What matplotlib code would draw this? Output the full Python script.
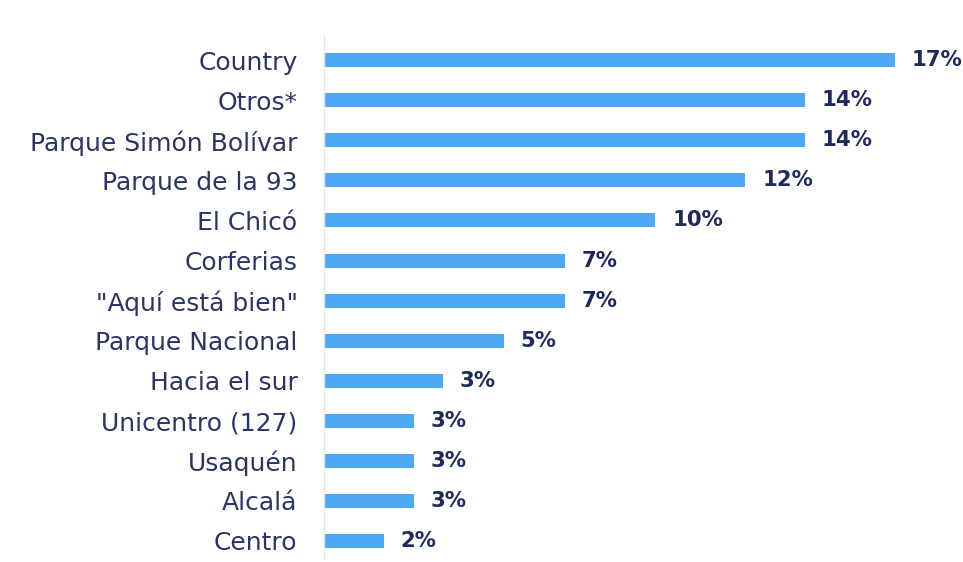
import matplotlib
matplotlib.use("Agg")
import matplotlib.pyplot as plt

categories = ["Country", "Otros*", "Parque Simón Bolívar", "Parque de la 93", "El Chicó",
              "Corferias", "\"Aquí está bien\"", "Parque Nacional", "Hacia el sur",
              "Unicentro (127)", "Usaquén", "Alcalá", "Centro"]
values = [16.8, 14.15, 14.15, 12.4, 9.75, 7.1, 7.1, 5.3, 3.5, 2.65, 2.65, 2.65, 1.77]
value_labels = ["17%", "14%", "14%", "12%", "10%", "7%", "7%", "5%", "3%", "3%", "3%", "3%", "2%"]

W, H = 963, 562
fig = plt.figure(figsize=(W / 100, H / 100), dpi=100)
ax = fig.add_axes([324 / W, 1 - 559 / H, (W - 324) / W, 522.8 / H])

ypos = list(range(len(categories)))
ax.barh(ypos, values, height=0.35, color="#4DA8F6", zorder=2)
ax.set_xlim(0, 18.8)
ax.set_ylim(12.45, -0.6)

for y, v, lab in zip(ypos, values, value_labels):
    ax.annotate(lab, (v, y), xytext=(12, 0), textcoords="offset points",
                ha="left", va="center", fontsize=15.3, fontweight="bold",
                color="#1E2A5E", family="DejaVu Sans")

ax.set_yticks(ypos)
ax.set_yticklabels(categories, fontsize=18, color="#2A3466", family="DejaVu Sans")
ax.tick_params(axis="y", length=0, pad=19)
ax.set_xticks([])
for s in ["top", "right", "bottom"]:
    ax.spines[s].set_visible(False)
ax.spines["left"].set_color("#DCE6F0")
ax.spines["left"].set_linewidth(1)

fig.savefig("out.png", dpi=100, facecolor="white")
